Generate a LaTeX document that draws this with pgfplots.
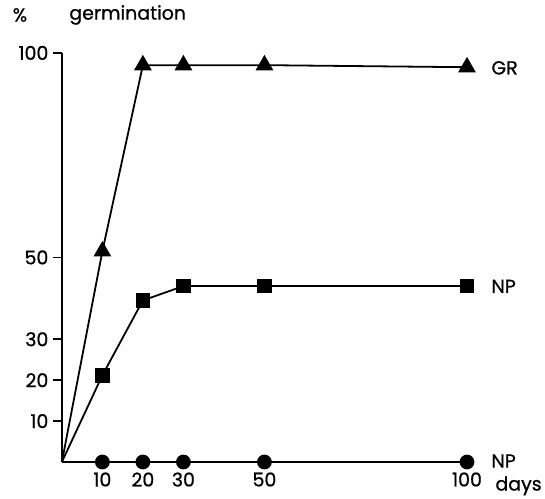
\documentclass[border=0pt]{standalone}
\usepackage{fontspec}
\setmainfont{Poppins}[FakeBold=0.8]
\usepackage{pgfplots}
\pgfplotsset{compat=1.18}
\begin{document}
\begin{tikzpicture}[every node/.style={font=\fontsize{19}{22}\selectfont}]
\begin{axis}[
  at={(0,0)}, anchor=origin,
  scale only axis,
  width=406pt, height=410pt,
  xmin=0, xmax=100, ymin=0, ymax=100,
  axis lines*=left,
  axis line style={line width=2pt},
  xtick={10,20,30,50,100},
  ytick={10,20,30,50,100},
  x tick style={draw=none},
  y tick style={line width=1.8pt, black},
  tick align=outside,
  major tick length=9pt,
  yticklabel style={xshift=-1pt},
  xticklabel style={yshift=2pt},
  ticklabel style={font=\fontsize{19}{22}\selectfont},
  /pgf/number format/assume math mode=true,
  clip=false,
]
\addplot[black, line width=1.8pt] coordinates {(0,0) (10,51.5)};
\addplot[black, line width=1.8pt, mark=triangle*, mark size=8.5pt] coordinates {
  (10,51.5) (20,97) (30,97) (50,97) (100,96.5)};
\addplot[black, line width=1.8pt, mark=square*, mark size=6.5pt] coordinates {
  (10,21.2) (20,39.5) (30,43) (50,43) (100,43)};
\addplot[black, line width=1.8pt] coordinates {(0,0) (10,21.2)};
\addplot[black, line width=1.8pt, mark=*, mark size=6.5pt] coordinates {
  (10,0) (20,0) (30,0) (50,0) (100,0)};
\end{axis}
\node at (-42pt,448pt) {\%};
\node[anchor=west] at (4pt,448pt) {germination};
\node[anchor=west] at (427pt,395pt) {GR};
\node[anchor=west] at (427pt,176pt) {NP};
\node[anchor=west] at (427pt,1pt) {NP};
\node[anchor=west] at (431pt,-24pt) {days};
\useasboundingbox (-62pt,-37pt) rectangle (483pt,463pt);
\end{tikzpicture}
\end{document}
